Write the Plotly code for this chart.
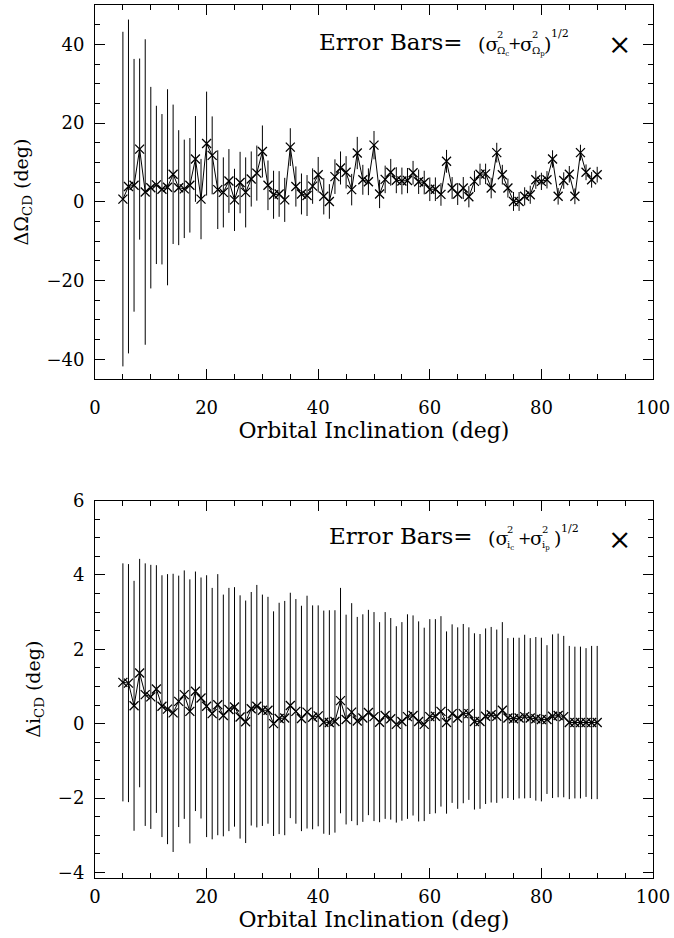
import plotly.graph_objects as go

inclination = list(range(5, 91))

dOmega = [0.7, 3.9, 4.2, 13.4, 2.5, 3.6, 4.3, 3.2, 3.7, 7.0,
          3.6, 3.3, 4.2, 10.9, 0.7, 14.8, 11.8, 3.1, 2.4, 5.3,
          0.5, 4.9, 2.4, 5.8, 7.3, 12.8, 4.2, 1.8, 2.0, 0.5,
          13.9, 3.9, 2.0, 1.6, 4.0, 6.9, 1.4, 0.1, 6.4, 8.6,
          7.5, 3.1, 12.4, 5.6, 5.1, 14.4, 2.0, 5.7, 7.5, 5.5,
          5.3, 5.4, 7.4, 5.1, 4.9, 3.2, 3.2, 1.9, 10.3, 3.5,
          2.0, 3.5, 1.3, 5.2, 7.0, 7.1, 3.5, 12.5, 6.9, 3.5,
          0.1, 0.1, 1.4, 1.8, 5.6, 5.2, 5.6, 10.9, 1.4, 5.4,
          7.0, 1.4, 12.5, 7.5, 5.6, 6.9]

dOmega_err = [42.5, 42.4, 32.1, 23.0, 38.8, 25.6, 20.1, 19.1, 24.9, 17.7,
              14.6, 12.5, 12.0, 10.9, 10.2, 13.2, 9.9, 10.0, 8.9, 8.1,
              7.9, 7.8, 8.9, 7.0, 7.0, 6.6, 6.3, 6.1, 5.8, 5.6,
              4.8, 5.1, 5.2, 5.2, 4.5, 4.5, 4.6, 4.4, 4.4, 4.2,
              4.1, 4.0, 4.1, 3.8, 3.4, 3.6, 3.6, 3.5, 3.4, 3.3,
              3.4, 3.2, 3.0, 3.1, 3.0, 3.0, 3.0, 2.9, 2.9, 2.8,
              2.8, 2.8, 2.7, 2.7, 2.7, 2.6, 2.6, 2.5, 2.5, 2.4,
              2.4, 2.4, 2.3, 2.3, 2.3, 2.2, 2.2, 2.2, 2.1, 2.1,
              2.1, 2.0, 2.0, 2.0, 2.0, 2.0]

di = [1.11, 1.09, 0.48, 1.36, 0.78, 0.72, 0.93, 0.47, 0.39, 0.29,
      0.60, 0.78, 0.33, 0.87, 0.69, 0.47, 0.27, 0.51, 0.22, 0.38,
      0.45, 0.18, 0.05, 0.40, 0.47, 0.36, 0.36, 0.00, 0.14, 0.15,
      0.49, 0.33, 0.14, 0.31, 0.17, 0.21, 0.04, 0.03, 0.06, 0.62,
      0.11, 0.31, 0.07, 0.15, 0.30, 0.19, 0.04, 0.22, 0.13, -0.02,
      0.06, 0.19, 0.22, 0.06, -0.02, 0.19, 0.20, 0.33, 0.03, 0.27,
      0.15, 0.27, 0.27, 0.06, 0.06, 0.20, 0.24, 0.20, 0.36, 0.15,
      0.13, 0.15, 0.19, 0.15, 0.13, 0.11, 0.11, 0.20, 0.22, 0.19,
      0.03, 0.03, 0.03, 0.03, 0.03, 0.03]

di_err = [3.20, 3.20, 3.36, 3.07, 3.53, 3.55, 3.33, 3.52, 3.63, 3.74,
          3.38, 3.34, 3.55, 3.22, 3.24, 3.52, 3.38, 3.51, 3.25, 3.27,
          3.22, 3.27, 3.26, 3.14, 3.26, 3.11, 3.05, 3.02, 3.11, 3.15,
          3.03, 3.02, 3.03, 3.13, 3.01, 2.97, 3.00, 3.02, 2.99, 3.03,
          2.82, 2.93, 2.80, 2.79, 2.76, 2.81, 2.69, 2.78, 2.71, 2.64,
          2.67, 2.75, 2.69, 2.69, 2.60, 2.62, 2.61, 2.56, 2.45, 2.40,
          2.44, 2.41, 2.32, 2.37, 2.35, 2.36, 2.36, 2.33, 2.37, 2.15,
          2.18, 2.16, 2.20, 2.15, 2.20, 2.20, 2.00, 2.20, 2.20, 2.17,
          2.06, 2.04, 2.04, 2.00, 2.06, 2.06]

x_ticks = [0, 20, 40, 60, 80, 100]

FONT = "DejaVu Serif"
W, H = 674, 938
ML, MR, MT, MB = 95, 21, 5, 60
PW = W - ML - MR
PH = H - MT - MB


def px2paper(px, py):
    return (px - ML) / PW, (H - MB - py) / PH


fig = go.Figure()

for yvals, yerr, ya in [(dOmega, dOmega_err, "y"), (di, di_err, "y2")]:
    fig.add_trace(go.Scatter(
        x=inclination, y=yvals, yaxis=ya, xaxis="x" if ya == "y" else "x2",
        mode="lines+markers",
        line=dict(color="black", width=1),
        marker=dict(symbol="x-thin", size=9, line=dict(color="black", width=1.3)),
        error_y=dict(type="data", array=yerr, visible=True, color="black",
                     thickness=1, width=0),
        showlegend=False,
    ))

axis_common = dict(
    showgrid=False, zeroline=False, showline=True, linecolor="black",
    linewidth=1, mirror="ticks", ticks="inside", ticklen=10, tickwidth=1,
    tickcolor="black", automargin=False,
    tickfont=dict(family=FONT, size=18, color="black"),
)

top_dom = [(H - MB - 379) / PH, 1.0]
bot_dom = [0.0, (H - MB - 500.5) / PH]

fig.update_layout(
    width=W, height=H,
    margin=dict(l=ML, r=MR, t=MT, b=MB),
    paper_bgcolor="white", plot_bgcolor="white",
    xaxis=dict(axis_common, range=[0, 100], tickvals=x_ticks, anchor="y",
               minor=dict(ticks="inside", dtick=5, ticklen=5, tickcolor="black"),
               ticklabelstandoff=12,
               title=dict(text="Orbital Inclination (deg)", standoff=6,
                          font=dict(family=FONT, size=22, color="black"))),
    yaxis=dict(axis_common, range=[-45, 50], dtick=20, domain=top_dom, anchor="x",
               minor=dict(ticks="inside", dtick=5, ticklen=5, tickcolor="black"),
               ticklabelstandoff=6,
               title=dict(text="ΔΩ<sub>CD</sub> (deg)", standoff=12,
                          font=dict(family=FONT, size=19, color="black"))),
    xaxis2=dict(axis_common, range=[0, 100], tickvals=x_ticks, anchor="y2",
                minor=dict(ticks="inside", dtick=5, ticklen=5, tickcolor="black"),
                ticklabelstandoff=2,
                title=dict(text="Orbital Inclination (deg)", standoff=3,
                           font=dict(family=FONT, size=22, color="black"))),
    yaxis2=dict(axis_common, range=[-4.15, 6], dtick=2, domain=bot_dom, anchor="x2",
                minor=dict(ticks="inside", dtick=0.5, ticklen=5, tickcolor="black"),
                ticklabelstandoff=6,
                title=dict(text="Δi<sub>CD</sub> (deg)", standoff=12,
                           font=dict(family=FONT, size=19, color="black"))),
)


def ann(text, px, py, size, xanchor="left"):
    xp, yp = px2paper(px, py)
    fig.add_annotation(text=text, x=xp, y=yp, xref="paper", yref="paper",
                       xanchor=xanchor, yanchor="middle", showarrow=False,
                       borderpad=0,
                       font=dict(family=FONT, size=size, color="black"))


def legend(y0, x_text, x0, sub1, sub2):
    ann("Error Bars=", x_text, y0 - 2, 23)
    ann("(σ", x0, y0, 19)
    ann("2", x0 + 19, y0 - 9, 10)
    ann(sub1, x0 + 19, y0 + 7, 10)
    ann("+", x0 + 30, y0, 16)
    ann("σ", x0 + 42, y0, 19)
    ann("2", x0 + 54, y0 - 9, 10)
    ann(sub2, x0 + 54, y0 + 7, 10)
    ann(")", x0 + 66, y0, 19)
    ann("1/2", x0 + 73, y0 - 10, 11)
    ann("×", 619, y0 + 1, 28, xanchor="center")


legend(44, 318, 477, "Ω<sub>c</sub>", "Ω<sub>p</sub>")
legend(538, 328, 487, "i<sub>c</sub>", "i<sub>p</sub>")

fig.write_html("out.html", config={"displayModeBar": False},
               post_script="document.body.style.margin='0';")
